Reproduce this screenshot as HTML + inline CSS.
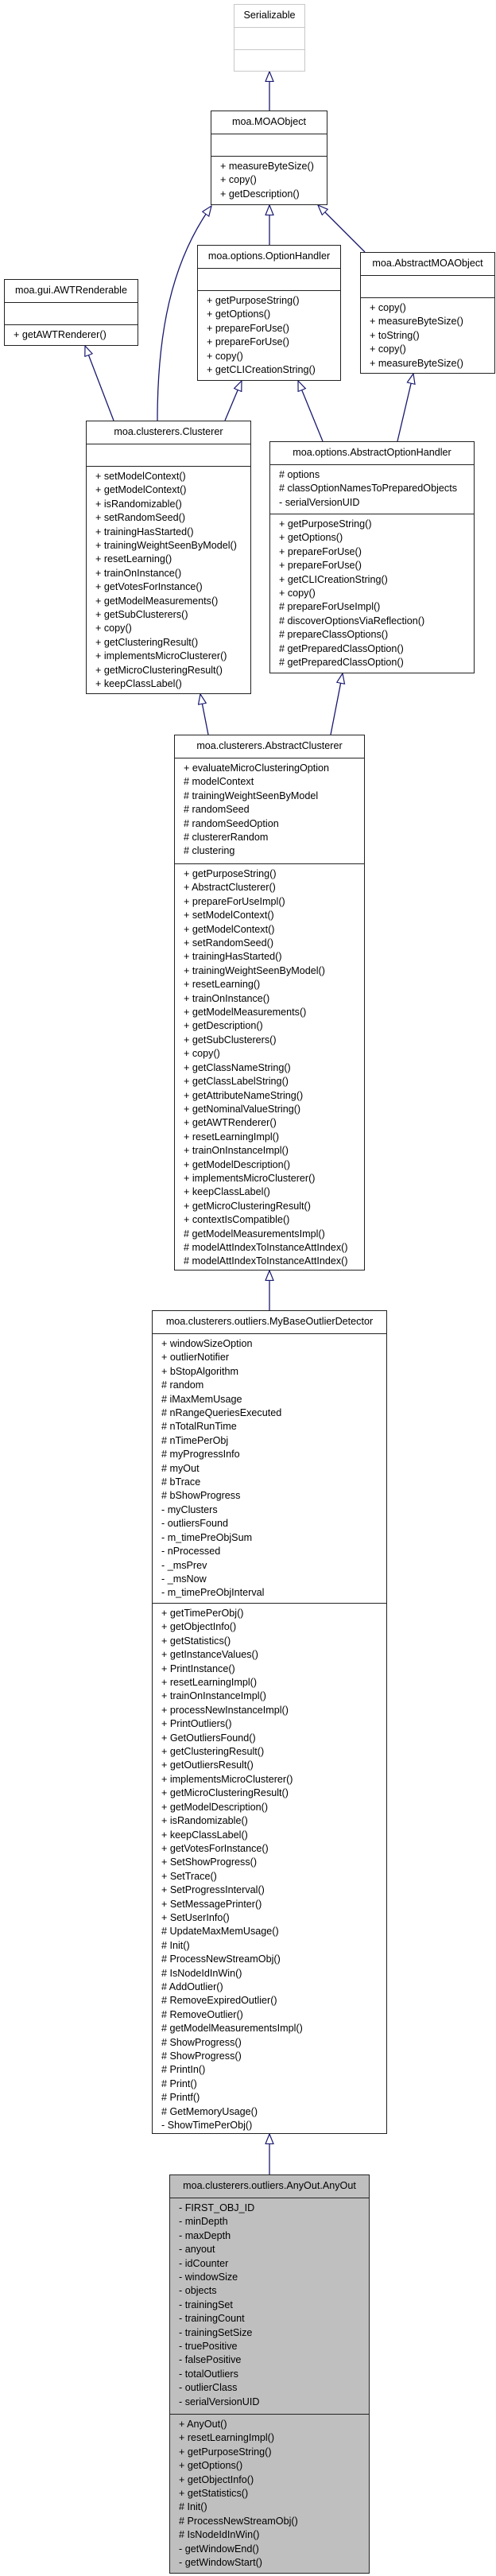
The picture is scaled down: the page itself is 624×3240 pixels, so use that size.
<!DOCTYPE html>
<html><head><meta charset="utf-8">
<style>
body{margin:0;background:#fff;}
#c{position:relative;width:624px;height:3240px;overflow:hidden;font-family:"Liberation Sans",Arial,sans-serif;font-size:12.6px;color:#000;}
.b{position:absolute;box-sizing:border-box;border:1.5px solid #222;background:#fff;display:flex;flex-direction:column;}
.b .h{height:28px;box-sizing:border-box;text-align:center;line-height:27px;white-space:nowrap;flex:none;}
.b .s{box-sizing:border-box;border-top:1.5px solid #222;padding:4px 0 0 11px;line-height:17.4px;white-space:nowrap;flex:none;}
.b .s:last-child{flex:1;}
.g{border-color:#c8c8c8;}
.g .s{border-color:#c8c8c8;}
.gr{background:#bfbfbf;}
svg{position:absolute;left:0;top:0;}
</style></head><body><div id="c">
<svg width="624" height="3240">
<defs><marker id="m" markerUnits="userSpaceOnUse" markerWidth="14" markerHeight="12" refX="13" refY="5.5" orient="auto"><path d="M0.5,0.5 L13,5.5 L0.5,10.5 Z" fill="#fff" stroke="#191970" stroke-width="1.2"/></marker></defs>
<g stroke="#191970" stroke-width="1.3" fill="none" marker-end="url(#m)">
<line x1="339" y1="139" x2="339" y2="90"/>
<line x1="339" y1="308" x2="339" y2="258"/>
<line x1="459" y1="317" x2="400" y2="258"/>
<path d="M198,529 C198,420 215,330 266,259"/>
<line x1="143" y1="529" x2="107" y2="435"/>
<line x1="283" y1="529" x2="304" y2="479"/>
<line x1="406" y1="555" x2="375" y2="479"/>
<line x1="500" y1="555" x2="520" y2="470"/>
<line x1="262" y1="924" x2="252" y2="873"/>
<line x1="416" y1="924" x2="431" y2="847"/>
<line x1="339" y1="1648" x2="339" y2="1598"/>
<line x1="339" y1="2735" x2="339" y2="2684"/>
</g></svg>

<div class="b g" style="left:294px;top:5px;width:90px;height:85px"><div class="h">Serializable</div><div class="s" style="height:28px"></div><div class="s"></div></div>

<div class="b" style="left:265px;top:139px;width:147px;height:119px"><div class="h">moa.MOAObject</div><div class="s" style="height:28px"></div><div class="s">+ measureByteSize()<br>+ copy()<br>+ getDescription()</div></div>

<div class="b" style="left:248px;top:308px;width:181px;height:171px"><div class="h">moa.options.OptionHandler</div><div class="s" style="height:28px"></div><div class="s">+ getPurposeString()<br>+ getOptions()<br>+ prepareForUse()<br>+ prepareForUse()<br>+ copy()<br>+ getCLICreationString()</div></div>

<div class="b" style="left:453px;top:317px;width:170px;height:153px"><div class="h">moa.AbstractMOAObject</div><div class="s" style="height:28px"></div><div class="s">+ copy()<br>+ measureByteSize()<br>+ toString()<br>+ copy()<br>+ measureByteSize()</div></div>

<div class="b" style="left:5px;top:351px;width:169px;height:84px"><div class="h">moa.gui.AWTRenderable</div><div class="s" style="height:28px"></div><div class="s">+ getAWTRenderer()</div></div>

<div class="b" style="left:108px;top:529px;width:208px;height:344px"><div class="h">moa.clusterers.Clusterer</div><div class="s" style="height:28px"></div><div class="s">+ setModelContext()<br>+ getModelContext()<br>+ isRandomizable()<br>+ setRandomSeed()<br>+ trainingHasStarted()<br>+ trainingWeightSeenByModel()<br>+ resetLearning()<br>+ trainOnInstance()<br>+ getVotesForInstance()<br>+ getModelMeasurements()<br>+ getSubClusterers()<br>+ copy()<br>+ getClusteringResult()<br>+ implementsMicroClusterer()<br>+ getMicroClusteringResult()<br>+ keepClassLabel()</div></div>

<div class="b" style="left:339px;top:555px;width:258px;height:292px"><div class="h">moa.options.AbstractOptionHandler</div><div class="s" style="height:62px"># options<br># classOptionNamesToPreparedObjects<br>- serialVersionUID</div><div class="s">+ getPurposeString()<br>+ getOptions()<br>+ prepareForUse()<br>+ prepareForUse()<br>+ getCLICreationString()<br>+ copy()<br># prepareForUseImpl()<br># discoverOptionsViaReflection()<br># prepareClassOptions()<br># getPreparedClassOption()<br># getPreparedClassOption()</div></div>

<div class="b" style="left:219px;top:924px;width:240px;height:674px"><div class="h">moa.clusterers.AbstractClusterer</div><div class="s" style="height:133px">+ evaluateMicroClusteringOption<br># modelContext<br># trainingWeightSeenByModel<br># randomSeed<br># randomSeedOption<br># clustererRandom<br># clustering</div><div class="s">+ getPurposeString()<br>+ AbstractClusterer()<br>+ prepareForUseImpl()<br>+ setModelContext()<br>+ getModelContext()<br>+ setRandomSeed()<br>+ trainingHasStarted()<br>+ trainingWeightSeenByModel()<br>+ resetLearning()<br>+ trainOnInstance()<br>+ getModelMeasurements()<br>+ getDescription()<br>+ getSubClusterers()<br>+ copy()<br>+ getClassNameString()<br>+ getClassLabelString()<br>+ getAttributeNameString()<br>+ getNominalValueString()<br>+ getAWTRenderer()<br>+ resetLearningImpl()<br>+ trainOnInstanceImpl()<br>+ getModelDescription()<br>+ implementsMicroClusterer()<br>+ keepClassLabel()<br>+ getMicroClusteringResult()<br>+ contextIsCompatible()<br># getModelMeasurementsImpl()<br># modelAttIndexToInstanceAttIndex()<br># modelAttIndexToInstanceAttIndex()</div></div>

<div class="b" style="left:191px;top:1648px;width:296px;height:1036px"><div class="h">moa.clusterers.outliers.MyBaseOutlierDetector</div><div class="s" style="height:339px">+ windowSizeOption<br>+ outlierNotifier<br>+ bStopAlgorithm<br># random<br># iMaxMemUsage<br># nRangeQueriesExecuted<br># nTotalRunTime<br># nTimePerObj<br># myProgressInfo<br># myOut<br># bTrace<br># bShowProgress<br>- myClusters<br>- outliersFound<br>- m_timePreObjSum<br>- nProcessed<br>- _msPrev<br>- _msNow<br>- m_timePreObjInterval</div><div class="s">+ getTimePerObj()<br>+ getObjectInfo()<br>+ getStatistics()<br>+ getInstanceValues()<br>+ PrintInstance()<br>+ resetLearningImpl()<br>+ trainOnInstanceImpl()<br>+ processNewInstanceImpl()<br>+ PrintOutliers()<br>+ GetOutliersFound()<br>+ getClusteringResult()<br>+ getOutliersResult()<br>+ implementsMicroClusterer()<br>+ getMicroClusteringResult()<br>+ getModelDescription()<br>+ isRandomizable()<br>+ keepClassLabel()<br>+ getVotesForInstance()<br>+ SetShowProgress()<br>+ SetTrace()<br>+ SetProgressInterval()<br>+ SetMessagePrinter()<br>+ SetUserInfo()<br># UpdateMaxMemUsage()<br># Init()<br># ProcessNewStreamObj()<br># IsNodeIdInWin()<br># AddOutlier()<br># RemoveExpiredOutlier()<br># RemoveOutlier()<br># getModelMeasurementsImpl()<br># ShowProgress()<br># ShowProgress()<br># PrintIn()<br># Print()<br># Printf()<br># GetMemoryUsage()<br>- ShowTimePerObj()</div></div>

<div class="b gr" style="left:213px;top:2735px;width:252px;height:502px"><div class="h">moa.clusterers.outliers.AnyOut.AnyOut</div><div class="s" style="height:272px">- FIRST_OBJ_ID<br>- minDepth<br>- maxDepth<br>- anyout<br>- idCounter<br>- windowSize<br>- objects<br>- trainingSet<br>- trainingCount<br>- trainingSetSize<br>- truePositive<br>- falsePositive<br>- totalOutliers<br>- outlierClass<br>- serialVersionUID</div><div class="s">+ AnyOut()<br>+ resetLearningImpl()<br>+ getPurposeString()<br>+ getOptions()<br>+ getObjectInfo()<br>+ getStatistics()<br># Init()<br># ProcessNewStreamObj()<br># IsNodeIdInWin()<br>- getWindowEnd()<br>- getWindowStart()</div></div>

</div></body></html>
